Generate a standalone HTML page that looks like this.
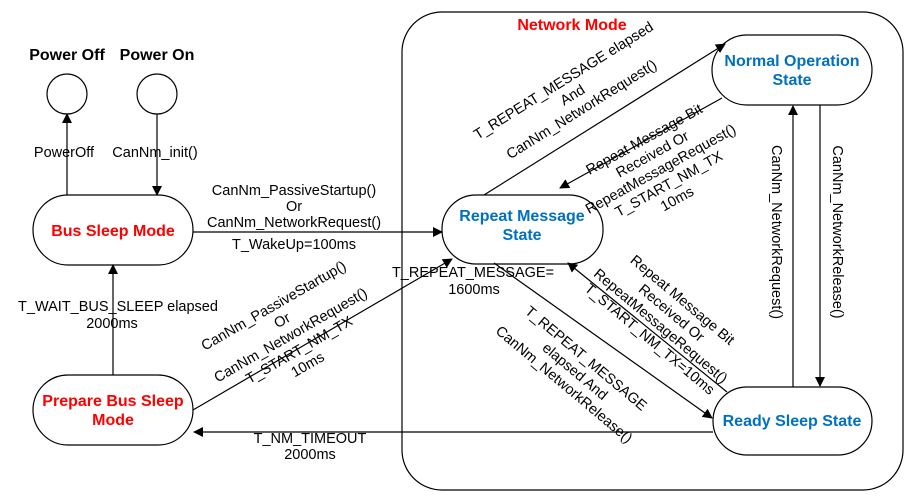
<!DOCTYPE html>
<html><head><style>
html,body{margin:0;padding:0;background:#fff;}
svg{display:block;}
text{font-family:"Liberation Sans",Arial,sans-serif;font-size:14.5px;fill:#000;}
.t{font-weight:bold;font-size:16px;}
.red{fill:#ff0000;font-weight:bold;font-size:16px;}
.blue{fill:#0070c0;font-weight:bold;font-size:16px;}
</style></head><body>
<svg width="917" height="502" viewBox="0 0 917 502" xmlns="http://www.w3.org/2000/svg">
<defs><marker id="a" markerWidth="10" markerHeight="10" refX="9" refY="5" orient="auto" markerUnits="userSpaceOnUse"><path d="M0,0 L10,5 L0,10 z" fill="#000"/></marker></defs>
<g fill="none" stroke="#000" stroke-width="1.2">
<rect x="402" y="12" width="501" height="478" rx="40"/>
<circle cx="67" cy="94" r="20"/>
<circle cx="157" cy="94" r="20"/>
<rect x="33" y="195" width="160" height="70" rx="35"/>
<rect x="33" y="375" width="160" height="70" rx="35"/>
<rect x="442" y="195" width="161" height="69" rx="34"/>
<rect x="712" y="35" width="160" height="70" rx="35"/>
<rect x="713" y="387" width="159" height="68" rx="34"/>
</g>
<g stroke="#000" stroke-width="1.2" marker-end="url(#a)">
<line x1="67" y1="195" x2="67" y2="114"/>
<line x1="157" y1="114" x2="157" y2="195"/>
<line x1="193" y1="232" x2="442" y2="232"/>
<line x1="113" y1="375" x2="113" y2="265"/>
<line x1="193" y1="410" x2="452" y2="259"/>
<line x1="484" y1="195" x2="725" y2="44"/>
<line x1="722" y1="98" x2="560" y2="188"/>
<line x1="494" y1="263" x2="712" y2="418"/>
<line x1="727" y1="392" x2="568" y2="263"/>
<line x1="713" y1="432" x2="194" y2="432"/>
<line x1="820" y1="105" x2="820" y2="386"/>
<line x1="793" y1="387" x2="793" y2="106"/>
</g>
<text class="t" x="67" y="60" text-anchor="middle">Power Off</text>
<text class="t" x="157" y="60" text-anchor="middle">Power On</text>
<text class="red" x="572" y="30" text-anchor="middle">Network Mode</text>
<text class="red" x="113" y="236" text-anchor="middle">Bus Sleep Mode</text>
<text class="red" x="113" y="406" text-anchor="middle">Prepare Bus Sleep</text>
<text class="red" x="113" y="425" text-anchor="middle">Mode</text>
<text class="blue" x="522" y="221" text-anchor="middle">Repeat Message</text>
<text class="blue" x="522" y="240" text-anchor="middle">State</text>
<text class="blue" x="792" y="66" text-anchor="middle">Normal Operation</text>
<text class="blue" x="792" y="85" text-anchor="middle">State</text>
<text class="blue" x="792" y="426" text-anchor="middle">Ready Sleep State</text>
<text x="64" y="157" text-anchor="middle">PowerOff</text>
<text x="155" y="157" text-anchor="middle">CanNm_init()</text>
<text x="294" y="195" text-anchor="middle">CanNm_PassiveStartup()</text>
<text x="294" y="211" text-anchor="middle">Or</text>
<text x="294" y="227" text-anchor="middle">CanNm_NetworkRequest()</text>
<text x="294" y="249" text-anchor="middle">T_WakeUp=100ms</text>
<text x="118" y="311" text-anchor="middle">T_WAIT_BUS_SLEEP elapsed</text>
<text x="112" y="328" text-anchor="middle">2000ms</text>
<text x="473" y="277" text-anchor="middle">T_REPEAT_MESSAGE=</text>
<text x="474" y="294" text-anchor="middle">1600ms</text>
<text x="310" y="443" text-anchor="middle">T_NM_TIMEOUT</text>
<text x="310" y="459" text-anchor="middle">2000ms</text>
<g transform="translate(575,99) rotate(-32)" text-anchor="middle">
<text y="-17">T_REPEAT_MESSAGE elapsed</text><text y="0">And</text><text y="17">CanNm_NetworkRequest()</text></g>
<g transform="translate(660,168) rotate(-29)" text-anchor="middle">
<text y="-28">Repeat Message Bit</text><text y="-11">Received Or</text><text y="6">RepeatMessageRequest()</text><text y="23">T_START_NM_TX</text><text y="40">10ms</text></g>
<g transform="translate(290,334) rotate(-30)" text-anchor="middle">
<text y="-28">CanNm_PassiveStartup()</text><text y="-11">Or</text><text y="6">CanNm_NetworkRequest()</text><text y="23">T_START_NM_TX</text><text y="40">10ms</text></g>
<g transform="translate(572,375) rotate(40)" text-anchor="middle">
<text y="-17">T_REPEAT_MESSAGE</text><text y="0">elapsed And</text><text y="17">CanNm_NetworkRelease()</text></g>
<g transform="translate(664,322) rotate(40)" text-anchor="middle">
<text y="-24">Repeat Message Bit</text><text y="-7">Received Or</text><text y="10">RepeatMessageRequest()</text><text y="27">T_START_NM_TX=10ms</text></g>
<text transform="translate(772,232) rotate(90)" text-anchor="middle">CanNm_NetworkRequest()</text>
<text transform="translate(833,232) rotate(90)" text-anchor="middle">CanNm_NetworkRelease()</text>
</svg>
</body></html>
